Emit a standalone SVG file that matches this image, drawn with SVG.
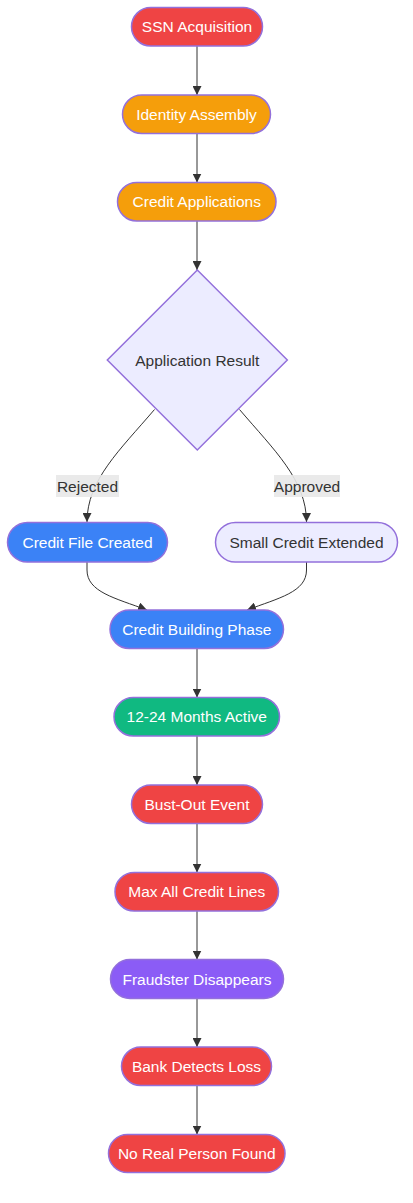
<svg xmlns="http://www.w3.org/2000/svg" width="413" height="1203" viewBox="0 0 413 1203">
<style>
.node rect,.node polygon{stroke:#9370DB;stroke-width:1.5}
.red{fill:#ef4444}
.orange{fill:#f59e0b}
.blue{fill:#3b82f6}
.green{fill:#10b981}
.purple{fill:#8b5cf6}
.light{fill:#ECECFF}
.t{font-family:"Liberation Sans",Arial,sans-serif;font-size:15.5px;text-anchor:middle;dominant-baseline:central;fill:#ffffff}
.dark{fill:#333333}
.edge{fill:none;stroke:#333333;stroke-width:1}
.lbl{fill:#e8e8e8;opacity:0.9}
</style>
<defs>
<marker id="arrow" viewBox="0 0 10 10" refX="10" refY="5" markerUnits="userSpaceOnUse" markerWidth="9" markerHeight="9" orient="auto">
<path d="M0,0 L10,5 L0,10 z" fill="#333333"/>
</marker>
</defs>
<rect width="413" height="1203" fill="#ffffff"/>
<g id="edges">
<path class="edge" d="M197,46 L197,95" marker-end="url(#arrow)"/>
<path class="edge" d="M197,133 L197,182.5" marker-end="url(#arrow)"/>
<path class="edge" d="M197,220.5 L197,270" marker-end="url(#arrow)"/>
<path class="edge" d="M154.5,409.5 C120,450 87,480 87,522" marker-end="url(#arrow)"/>
<path class="edge" d="M239.5,409.5 C274,450 306.5,480 306.5,522" marker-end="url(#arrow)"/>
<path class="edge" d="M87,562 L87,570 C87,592 115,598 147,610" marker-end="url(#arrow)"/>
<path class="edge" d="M306.5,562 L306.5,570 C306.5,592 279,598 247,610" marker-end="url(#arrow)"/>
<path class="edge" d="M197,648.5 L197,697.5" marker-end="url(#arrow)"/>
<path class="edge" d="M197,736 L197,785" marker-end="url(#arrow)"/>
<path class="edge" d="M197,823.5 L197,872.5" marker-end="url(#arrow)"/>
<path class="edge" d="M197,910.5 L197,959.5" marker-end="url(#arrow)"/>
<path class="edge" d="M197,998.5 L197,1047" marker-end="url(#arrow)"/>
<path class="edge" d="M197,1085.5 L197,1134.5" marker-end="url(#arrow)"/>
<rect class="lbl" x="56" y="475" width="63" height="22"/>
<text class="t dark" x="87.5" y="486">Rejected</text>
<rect class="lbl" x="274" y="475" width="66" height="22"/>
<text class="t dark" x="307" y="486">Approved</text>
</g>
<g id="n1" class="node"><rect class="red" x="131.5" y="7.5" width="131" height="38.5" rx="19.25"/><text class="t" x="197" y="26.75">SSN Acquisition</text></g>
<g id="n2" class="node"><rect class="orange" x="122.5" y="95" width="148" height="38.5" rx="19.25"/><text class="t" x="196.5" y="114.25">Identity Assembly</text></g>
<g id="n3" class="node"><rect class="orange" x="117.5" y="182.5" width="158.5" height="38.5" rx="19.25"/><text class="t" x="196.75" y="201.75">Credit Applications</text></g>
<g id="n4" class="node"><polygon class="light" points="197.3,270 287.3,360 197.3,450 107.3,360"/><text class="t dark" x="197.3" y="360">Application Result</text></g>
<g id="n5" class="node"><rect class="blue" x="7.5" y="522.5" width="160" height="39.5" rx="19.75"/><text class="t" x="87.5" y="542">Credit File Created</text></g>
<g id="n6" class="node"><rect class="light" x="215.5" y="522.5" width="182" height="39.5" rx="19.75"/><text class="t dark" x="306.5" y="542">Small Credit Extended</text></g>
<g id="n7" class="node"><rect class="blue" x="110" y="610" width="173.5" height="38.5" rx="19.25"/><text class="t" x="196.75" y="629.25">Credit Building Phase</text></g>
<g id="n8" class="node"><rect class="green" x="114" y="697.5" width="165.5" height="38.5" rx="19.25"/><text class="t" x="196.75" y="716.75">12-24 Months Active</text></g>
<g id="n9" class="node"><rect class="red" x="131.5" y="785" width="131" height="38.5" rx="19.25"/><text class="t" x="197" y="804.25">Bust-Out Event</text></g>
<g id="n10" class="node"><rect class="red" x="115" y="872.5" width="163.5" height="38.5" rx="19.25"/><text class="t" x="196.75" y="891.75">Max All Credit Lines</text></g>
<g id="n11" class="node"><rect class="purple" x="110.5" y="959.5" width="173" height="39" rx="19.5"/><text class="t" x="197" y="979">Fraudster Disappears</text></g>
<g id="n12" class="node"><rect class="red" x="121.5" y="1047" width="150" height="38.5" rx="19.25"/><text class="t" x="196.5" y="1066.25">Bank Detects Loss</text></g>
<g id="n13" class="node"><rect class="red" x="108.5" y="1134.5" width="176.5" height="38" rx="19"/><text class="t" x="196.75" y="1153.5">No Real Person Found</text></g>
</svg>
